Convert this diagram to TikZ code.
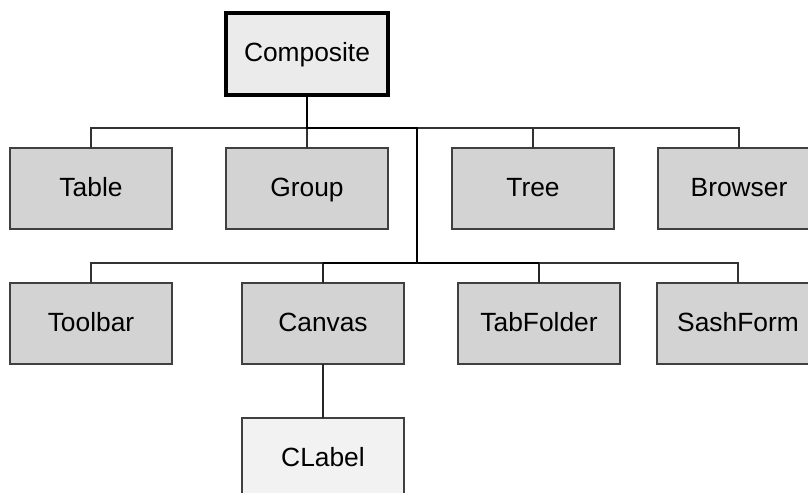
\documentclass[tikz,border=0pt]{standalone}
\usepackage{fontspec}
\setmainfont{Liberation Sans}
\usepackage{tikz}
\usetikzlibrary{calc}
\usepackage{xcolor}
\definecolor{boxfill}{RGB}{211,211,211}
\definecolor{rootfill}{RGB}{235,235,235}
\definecolor{leaffill}{RGB}{242,242,242}
\definecolor{boxedge}{RGB}{64,64,64}
\definecolor{linkclr}{RGB}{50,50,50}
\tikzset{
  % Klass qutilari
  widget/.style   = {rectangle, draw=boxedge, fill=boxfill, line width=0.6pt,
                     minimum width=3.24cm, minimum height=1.62cm,
                     inner sep=0pt, outer sep=0pt,
                     text height=9pt, text depth=0pt,
                     font=\fontsize{15}{18}\selectfont},
  rootbox/.style  = {widget, fill=rootfill, draw=black, line width=2pt,
                     minimum height=1.64cm},
  leafbox/.style  = {widget, fill=leaffill},
  % Bog'lovchi chiziqlar
  branch/.style   = {draw=linkclr, line width=0.6pt},
  midbranch/.style= {draw=black!85, line width=0.8pt},
  trunk/.style    = {draw=black, line width=1.2pt},
}

\begin{document}
\begin{tikzpicture}[x=0.02cm, y=-0.02cm]
  \clip (0,0) rectangle (808,493);
  \fill[white] (0,0) rectangle (808,493);
  % Ildiz
  \node[rootbox] (composite) at (307,54) {Composite};
  % Birinchi qator
  \node[widget] (table)   at (91,188.5)  {Table};
  \node[widget] (group)   at (307,188.5) {Group};
  \node[widget] (tree)    at (533,188.5) {Tree};
  \node[widget] (browser) at (739,188.5) {Browser};
  % Ikkinchi qator
  \node[widget] (toolbar)   at (91,323.5)  {Toolbar};
  \node[widget] (canvas)    at (323,323.5) {Canvas};
  \node[widget] (tabfolder) at (539,323.5) {TabFolder};
  \node[widget] (sashform)  at (738,323.5) {SashForm};
  % Canvas ostida
  \node[leafbox] (clabel) at (323,458.5) {CLabel};
  % Tugun nuqtalari
  \coordinate (hubA) at (307,128);
  \coordinate (knee) at (417,128);
  \coordinate (hubB) at (417,263);
  % Ingichka shoxlar
  \draw[branch] (table.north) |- (hubA);
  \draw[branch] (group.north) -- (hubA);
  \draw[branch] (tree.north) |- (knee);
  \draw[branch] (browser.north) |- (knee);
  \draw[branch] (toolbar.north) |- (hubB);
  \draw[branch] (sashform.north) |- (hubB);
  \draw[midbranch] (canvas.north) |- (hubB);
  \draw[midbranch] (tabfolder.north) |- (hubB);
  \draw[midbranch] (canvas.south) -- (clabel.north);
  % Asosiy magistral
  \draw[trunk] (composite.south) -- (hubA) -- (knee) -- (hubB);
  \draw[trunk] (canvas.north |- hubB) -- (tabfolder.north |- hubB);
\end{tikzpicture}
\end{document}
